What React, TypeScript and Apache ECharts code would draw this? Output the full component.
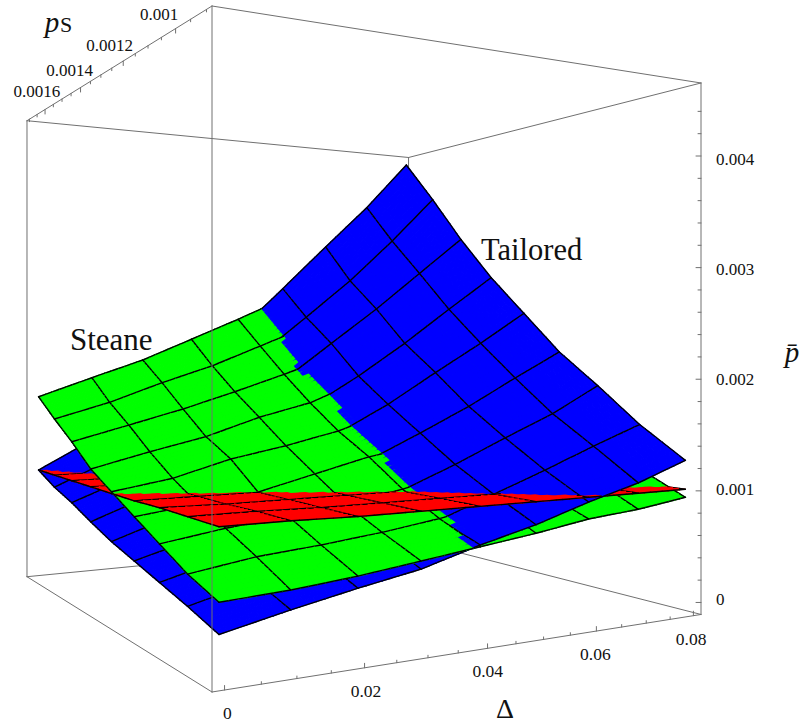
import React, { useEffect, useRef } from "react";
import * as echarts from "echarts";

// Axis values
const deltaGrid = [0, 0.01, 0.02, 0.03, 0.04, 0.05, 0.06, 0.07, 0.08];
const pSGrid = [0.0009, 0.001, 0.0011, 0.0012, 0.0013, 0.0014, 0.0015, 0.0016, 0.0017];
const deltaLabels = ["0", "0.02", "0.04", "0.06", "0.08"];
const pSLabels = ["0.001", "0.0012", "0.0014", "0.0016"];
const pBarLabels = ["0", "0.001", "0.002", "0.003", "0.004"];

// Surface heights, in units of 0.001; a row per pS, a column per Delta
const tailored = [
  [0.26, 0.37, 0.47, 0.56, 0.7, 0.82, 0.97, 1.1, 1.27],
  [0.35, 0.48, 0.6, 0.71, 0.83, 1.01, 1.19, 1.38, 1.56],
  [0.43, 0.57, 0.72, 0.86, 1.02, 1.22, 1.44, 1.65, 1.91],
  [0.51, 0.66, 0.84, 1.03, 1.24, 1.47, 1.71, 1.98, 2.24],
  [0.59, 0.77, 0.97, 1.2, 1.455, 1.72, 2.03, 2.33, 2.65],
  [0.69, 0.89, 1.12, 1.39, 1.685, 1.99, 2.33, 2.7, 3.06],
  [0.8, 1.01, 1.28, 1.6, 1.946, 2.33, 2.71, 3.12, 3.53],
  [0.89, 1.13, 1.46, 1.81, 2.21, 2.625, 3.05, 3.53, 4.05],
  [1.01, 1.3, 1.67, 2.05, 2.47, 2.97, 3.48, 3.98, 4.54],
];
const steane = [
  [0.487, 0.515, 0.561, 0.623, 0.686, 0.749, 0.826, 0.869, 0.938],
  [0.591, 0.67, 0.713, 0.769, 0.84, 0.937, 0.986, 1.076, 1.144],
  [0.734, 0.814, 0.873, 0.927, 1.03, 1.14, 1.24, 1.36, 1.48],
  [0.878, 0.946, 1.013, 1.142, 1.27, 1.356, 1.5, 1.66, 1.83],
  [1.025, 1.111, 1.257, 1.356, 1.475, 1.644, 1.8, 1.98, 2.18],
  [1.173, 1.306, 1.426, 1.596, 1.726, 1.935, 2.13, 2.35, 2.58],
  [1.383, 1.524, 1.667, 1.83, 2.003, 2.19, 2.4, 2.63, 2.88],
  [1.571, 1.725, 1.917, 2.09, 2.302, 2.515, 2.75, 3.0, 3.27],
  [1.773, 1.964, 2.15, 2.378, 2.607, 2.85, 3.1, 3.37, 3.65],
];
const reference = [
  [1.02, 1.02, 1.01, 1.01, 1.01, 1.01, 1.01, 1.01, 1.01],
  [1.02, 1.02, 1.01, 1.01, 1.01, 1.01, 1.01, 1.01, 1.01],
  [1.02, 1.01, 1.01, 1.01, 1.01, 1.01, 1.01, 1.01, 1.01],
  [1.01, 1.01, 1.01, 1.01, 1.01, 1.01, 1.01, 1.01, 1.01],
  [1.01, 1.01, 1.01, 1.01, 1.01, 1.01, 1.01, 1.01, 1.01],
  [1.01, 1.01, 1.01, 1.01, 1.01, 1.01, 1.01, 1.01, 1.01],
  [1.01, 1.01, 1.01, 1.01, 1.01, 1.01, 1.01, 1.01, 1.01],
  [1.01, 1.01, 1.01, 1.01, 1.01, 1.01, 1.01, 1.01, 1.01],
  [1.01, 1.01, 1.01, 1.01, 1.01, 1.01, 1.01, 1.01, 1.01],
];

const SUB = 8;
const CELLS = deltaGrid.length - 1;

const uOf = (d: number) => 0.02 + (0.96 * d) / 0.08;
const vOf = (s: number) => 0.02 + (0.96 * (s - 0.0009)) / 0.0008;
const wOf = (p: number) => 0.0226 + 0.21 * p;

// Camera with upright verticals: maps the unit cube to page pixels
function project(u: number, v: number, w: number): number[] {
  const D = 1 + 0.2907 * u + 0.5044 * v;
  return [(212 + 692.8 * u - 171.4 * v) / D, (692 + 101.1 * u + 175.6 * v - 686 * w) / D];
}

function bilinear(rows: number[][], a: number, b: number): number {
  const i = Math.min(Math.floor(a), CELLS - 1);
  const j = Math.min(Math.floor(b), CELLS - 1);
  const fa = a - i;
  const fb = b - j;
  return (
    rows[j][i] * (1 - fa) * (1 - fb) +
    rows[j][i + 1] * fa * (1 - fb) +
    rows[j + 1][i] * (1 - fa) * fb +
    rows[j + 1][i + 1] * fa * fb
  );
}

type Patch = { pts: number[][]; fill: string; edges: number[][]; depth: number; height: number };

function buildPatches(): Patch[] {
  const surfaces = [
    { rows: tailored, fill: "#0000ff" },
    { rows: steane, fill: "#00ff00" },
    { rows: reference, fill: "#ff0000" },
  ];
  const out: Patch[] = [];
  const n = CELLS * SUB;
  const ua = (a: number) => uOf(deltaGrid[0] + (a * (deltaGrid[8] - deltaGrid[0])) / CELLS);
  const va = (b: number) => vOf(pSGrid[0] + (b * (pSGrid[8] - pSGrid[0])) / CELLS);
  for (const s of surfaces) {
    for (let iu = 0; iu < n; iu++) {
      for (let iv = 0; iv < n; iv++) {
        const a0 = iu / SUB, a1 = (iu + 1) / SUB, b0 = iv / SUB, b1 = (iv + 1) / SUB;
        const P = (a: number, b: number) => project(ua(a), va(b), wOf(bilinear(s.rows, a, b)));
        const p00 = P(a0, b0), p10 = P(a1, b0), p11 = P(a1, b1), p01 = P(a0, b1);
        const edges: number[][] = [];
        if ((iu + 1) % SUB === 0) edges.push([...p10, ...p11]);
        if ((iv + 1) % SUB === 0) edges.push([...p01, ...p11]);
        if (iu === 0) edges.push([...p00, ...p01]);
        if (iv === 0) edges.push([...p00, ...p10]);
        const um = ua((a0 + a1) / 2), vm = va((b0 + b1) / 2);
        out.push({
          pts: [p00, p10, p11, p01],
          fill: s.fill,
          edges,
          depth: 0.2907 * um + 0.5044 * vm,
          height: bilinear(s.rows, (a0 + a1) / 2, (b0 + b1) / 2),
        });
      }
    }
  }
  out.sort((x, y) => y.depth - x.depth || x.height - y.height);
  return out;
}

const BOX = "#707070";

export default function App() {
  const ref = useRef<HTMLDivElement>(null);
  useEffect(() => {
    document.body.style.margin = "0";
    const chart = echarts.init(ref.current!, undefined, { renderer: "svg" });
    const patches = buildPatches();

    // Lines in page space: [x1, y1, x2, y2]
    const seg = (a: number[], b: number[]) => [...project(a[0], a[1], a[2]), ...project(b[0], b[1], b[2])];
    const backEdges = [
      seg([0, 1, 1], [0, 0, 1]), seg([0, 0, 1], [1, 0, 1]), seg([1, 0, 1], [1, 1, 1]), seg([1, 1, 1], [0, 1, 1]),
      seg([0, 1, 0], [0, 0, 0]), seg([0, 0, 0], [1, 0, 0]), seg([1, 0, 0], [1, 1, 0]), seg([1, 1, 0], [0, 1, 0]),
      seg([0, 1, 0], [0, 1, 1]), seg([1, 0, 0], [1, 0, 1]), seg([1, 1, 0], [1, 1, 1]),
    ];
    const frontEdges = [seg([0, 0, 0], [0, 0, 1])];
    const ticks: number[][] = [];
    for (let k = 0; k <= 16; k++) {
      const d = k * 0.005;
      const [x, y] = project(uOf(d), 0, 0);
      ticks.push([x, y, x, y - (k % 4 === 0 ? 4.5 : 2.5)]);
    }
    for (let k = 0; k <= 16; k++) {
      const s = 0.0009 + k * 0.00005;
      const [x, y] = project(0, vOf(s), 1);
      ticks.push([x, y, x, y + ((k - 2) % 4 === 0 ? 4.5 : 2.5)]);
    }
    for (let k = 0; k <= 22; k++) {
      const [x, y] = project(1, 0, wOf(k * 0.2));
      ticks.push([x, y, x - (k % 5 === 0 ? 5 : 3), y]);
    }

    const texts: any[] = [];
    const T = (text: string, x: number, y: number, fontSize: number, extra: any = {}) =>
      texts.push({ text, x, y, fontSize, ...extra });
    deltaLabels.forEach((t) => {
      const d = Number(t);
      const [x, y] = project(uOf(d), 0, 0);
      T(t, x + 2.7 - (5 * d) / 0.08, y + 23, 17.5);
    });
    pSLabels.forEach((t) => {
      const v = vOf(Number(t));
      const [x, y] = project(0, v, 1);
      T(t, x - 18 + 11.5 * v, y - 13 - 6 * v, 17);
    });
    pBarLabels.forEach((t) => {
      const p = Number(t) * 1000;
      const [x, y] = project(1, 0, wOf(p));
      T(t, 716, y + 3 - (4 - p) * 1.5, 17, { align: "left" });
    });
    T("Tailored", 481, 249.5, 30.5, { align: "left" });
    T("Steane", 70, 339.5, 31, { align: "left" });
    T("Δ", 505, 708, 28);
    T("p", 52, 22, 29, { italic: true });
    T("S", 66, 24, 22);
    T("p̄", 792, 352, 29, { italic: true });

    const lineItem = (l: number[], api: any, stroke: string, lineWidth: number) => {
      const a = api.coord([l[0], l[1]]);
      const b = api.coord([l[2], l[3]]);
      return {
        type: "line",
        shape: { x1: a[0], y1: a[1], x2: b[0], y2: b[1] },
        style: { stroke, lineWidth, lineCap: "round", fill: null },
      };
    };
    const lineSeries = (lines: number[][], stroke: string, lineWidth: number, z: number) => ({
      type: "custom",
      coordinateSystem: "cartesian2d",
      clip: false,
      silent: true,
      z,
      encode: { x: 0, y: 1 },
      data: lines.map((_, k) => [k, 0]),
      renderItem: (_: any, api: any) => lineItem(lines[api.value(0)], api, stroke, lineWidth),
    });

    chart.setOption({
      animation: false,
      grid: { left: 0, right: 0, top: 0, bottom: 0 },
      xAxis: { type: "value", min: 0, max: 801, show: false },
      yAxis: { type: "value", min: 0, max: 725, inverse: true, show: false },
      series: [
        lineSeries([...backEdges, ...ticks], BOX, 1, 1),
        {
          type: "custom",
          coordinateSystem: "cartesian2d",
          clip: false,
          silent: true,
          progressive: 0,
          z: 2,
          encode: { x: 0, y: 1 },
          data: patches.map((_, k) => [k, 0]),
          renderItem: (_: any, api: any) => {
            const p = patches[api.value(0)];
            return {
              type: "group",
              children: [
                {
                  type: "polygon",
                  shape: { points: p.pts.map((q) => api.coord(q)) },
                  style: { fill: p.fill, stroke: p.fill, lineWidth: 1.1 },
                },
                ...p.edges.map((e) => lineItem(e, api, "#000000", 1.4)),
              ],
            };
          },
        },
        lineSeries(frontEdges, BOX, 1, 3),
        {
          type: "custom",
          coordinateSystem: "cartesian2d",
          clip: false,
          silent: true,
          z: 4,
          encode: { x: 0, y: 1 },
          data: texts.map((_, k) => [k, 0]),
          renderItem: (_: any, api: any) => {
            const t = texts[api.value(0)];
            const c = api.coord([t.x, t.y]);
            return {
              type: "text",
              style: {
                text: t.text,
                x: c[0],
                y: c[1],
                fill: "#111111",
                font: `${t.italic ? "italic " : ""}${t.fontSize}px "Liberation Serif"`,
                align: t.align || "center",
                verticalAlign: "middle",
              },
            };
          },
        },
      ],
    });
    return () => chart.dispose();
  }, []);
  return <div ref={ref} style={{ width: 801, height: 725 }} />;
}
